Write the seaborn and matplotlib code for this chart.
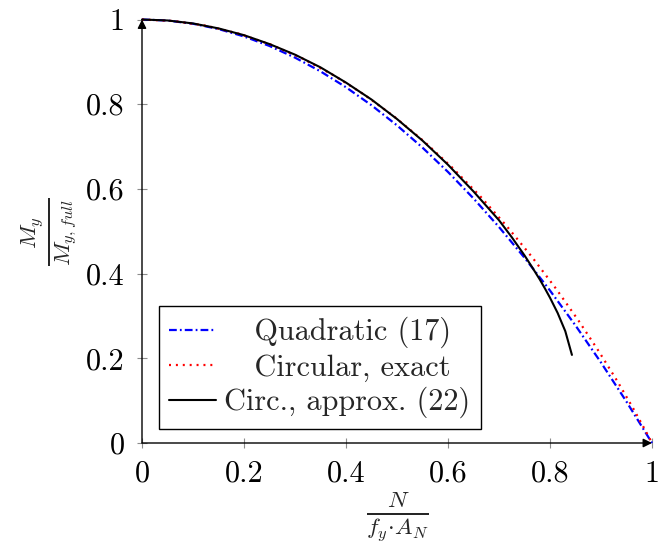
import matplotlib
matplotlib.use("Agg")
import matplotlib.pyplot as plt
import seaborn as sns
import pandas as pd

# ---- data ----
quad_x = [0, 0.05, 0.1, 0.15, 0.2, 0.25, 0.3, 0.35, 0.4, 0.45, 0.5, 0.55, 0.6,
          0.65, 0.7, 0.75, 0.8, 0.85, 0.9, 0.95, 1.0]
quad_y = [1, 0.9975, 0.99, 0.9775, 0.96, 0.9375, 0.91, 0.8775, 0.84, 0.7975, 0.75,
          0.6975, 0.64, 0.5775, 0.51, 0.4375, 0.36, 0.2775, 0.19, 0.0975, 0.0]

circ_x = [0, 0.0636, 0.1271, 0.1903, 0.2529, 0.3150, 0.3762, 0.4364, 0.4954, 0.5530,
          0.6090, 0.6632, 0.7152, 0.7649, 0.8119, 0.8557, 0.8959, 0.9319, 0.9626,
          0.9866, 1.0]
circ_y = [1, 0.9963, 0.9850, 0.9664, 0.9406, 0.9077, 0.8681, 0.8220, 0.7699, 0.7122,
          0.6495, 0.5826, 0.5120, 0.4389, 0.3642, 0.2894, 0.2160, 0.1462, 0.0828,
          0.0305, 0.0]

appr_x = [0, 0.05, 0.1, 0.15, 0.2, 0.25, 0.3, 0.35, 0.4, 0.45, 0.5, 0.55, 0.6, 0.65,
          0.7, 0.725, 0.75, 0.765, 0.78, 0.79, 0.8, 0.815, 0.83, 0.843]
appr_y = [1, 0.9977, 0.9907, 0.979, 0.963, 0.942, 0.917, 0.887, 0.851, 0.811, 0.765,
          0.714, 0.657, 0.594, 0.526, 0.486, 0.443, 0.415, 0.386, 0.365, 0.343,
          0.307, 0.264, 0.208]

labels = ["   Quadratic (17)", "   Circular, exact", "Circ., approx. (22)"]
tick_vals = [0, 0.2, 0.4, 0.6, 0.8, 1.0]
tick_labels = ["0", "0.2", "0.4", "0.6", "0.8", "1"]

# ---- style ----
sns.set_style("white")
plt.rcParams["font.family"] = ["serif"]
plt.rcParams["font.serif"] = ["cmr10", "DejaVu Serif"]
plt.rcParams["mathtext.fontset"] = "cm"
plt.rcParams["axes.unicode_minus"] = False
FS = 21.8

fig = plt.figure(figsize=(6.71, 5.47), dpi=100)
ax = fig.add_axes([142 / 671, (547 - 443) / 547, 510 / 671, 423.5 / 547])

df_q = pd.DataFrame({"x": quad_x, "y": quad_y})
df_c = pd.DataFrame({"x": circ_x, "y": circ_y})
df_a = pd.DataFrame({"x": appr_x, "y": appr_y})

sns.lineplot(data=df_q, x="x", y="y", ax=ax, color=(0, 0, 1), lw=1.6,
             linestyle=(0, (3.5, 1.4, 0.8, 1.4)), label=labels[0], sort=False,
             clip_on=False, zorder=3)
sns.lineplot(data=df_c, x="x", y="y", ax=ax, color=(1, 0, 0), lw=1.6,
             linestyle=(0, (0.9, 2.2)), label=labels[1], sort=False,
             clip_on=False, zorder=3)
sns.lineplot(data=df_a, x="x", y="y", ax=ax, color="black", lw=1.5,
             linestyle="-", label=labels[2], sort=False, clip_on=False, zorder=4)

ax.set_xlim(0, 1)
ax.set_ylim(0, 1)
for s in ax.spines.values():
    s.set_visible(False)

# axis lines with arrows (pgfplots "axis lines = left")
arrow_kw = dict(arrowstyle="-|>", lw=1.0, color="black", shrinkA=0, shrinkB=0,
                mutation_scale=13)
ax.annotate("", xy=(1, 0), xytext=(0, 0), arrowprops=arrow_kw,
            annotation_clip=False, zorder=5)
ax.annotate("", xy=(0, 1), xytext=(0, 0), arrowprops=arrow_kw,
            annotation_clip=False, zorder=5)

ax.set_xticks(tick_vals, tick_labels)
ax.set_yticks(tick_vals, tick_labels)
ax.tick_params(axis="both", direction="inout", length=7, width=0.8,
               color="0.55", labelsize=FS, labelcolor="black",
               bottom=True, left=True, top=False, right=False)
ax.tick_params(axis="x", pad=9)
ax.tick_params(axis="y", pad=9)

ax.set_xlabel(r"$\frac{N}{f_y\!\cdot\! A_N}$", fontsize=24, labelpad=1)
ax.set_ylabel(r"$\frac{M_y}{M_{y,full}}$", fontsize=24, labelpad=5)

leg = ax.legend(loc="lower left", bbox_to_anchor=(0.033, 0.033),
                borderaxespad=0, fontsize=FS, frameon=True, fancybox=False,
                edgecolor="black", framealpha=1, handlelength=1.55,
                handletextpad=0.25, labelspacing=0.18, borderpad=0.35)
leg.get_frame().set_linewidth(1.0)

fig.savefig("out.png", dpi=100)
